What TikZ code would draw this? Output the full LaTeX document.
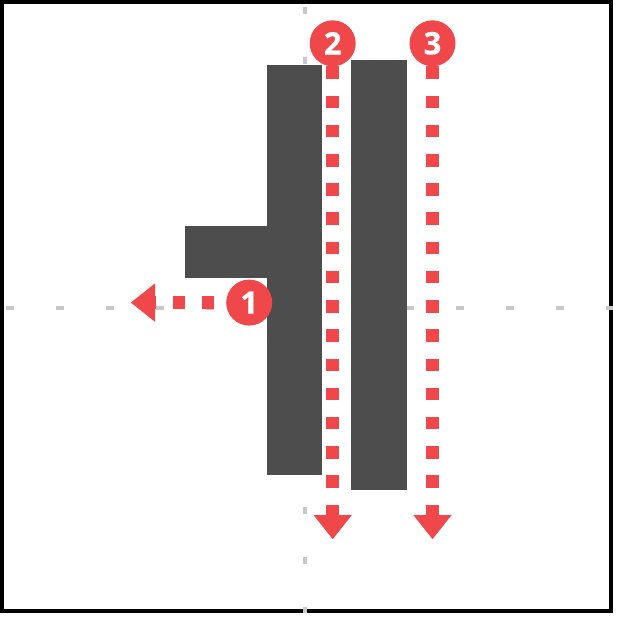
\documentclass[tikz,border=0pt]{standalone}
\usepackage{fontspec}
\setmainfont{Open Sans}
\newfontfamily\badgefont{Open Sans}[FakeBold=0.6]
\usetikzlibrary{arrows.meta}

\definecolor{flowred}{HTML}{EF474A}
\definecolor{walldark}{HTML}{4D4D4D}
\definecolor{guidegray}{HTML}{C8C8C8}

\begin{document}
\begin{tikzpicture}[
    x=1pt,
    y=-1pt,
    guide/.style={draw=guidegray, line width=4pt, dash pattern=on 7.7pt off 42.3pt},
    wall/.style={fill=walldark},
    flow/.style={draw=flowred, line width=12.5pt, dash pattern=on 12.5pt off 16.7pt,
        -{Triangle[width=36.7pt, length=24.3pt]}},
    badge/.style={circle, fill=flowred, text=white, minimum size=46pt, inner sep=0pt,
        font=\fontsize{31}{31}\badgefont\bfseries},
]

    \useasboundingbox (0,0) rectangle (617,617);
    \draw[line width=4pt] (2,2) rectangle (611,611);

    % centre lines
    \coordinate (hl) at (6,308.3);
    \coordinate (hr) at (613,308.3);
    \coordinate (vt) at (304.7,6.7);
    \coordinate (vb) at (304.7,613);
    \draw[guide] (hl) -- (hr);
    \draw[guide] (vt) -- (vb);

    % walls
    \fill[wall] (267,65) rectangle (321.7,475);
    \fill[wall] (185,226) rectangle (267,278.3);
    \fill[wall] (351,60) rectangle (407,490);

    \node[badge] (b1) at (249.2,302.6) {1};
    \node[badge] (b2) at (332.7,43.3)  {2};
    \node[badge] (b3) at (432.5,43.3)  {3};

    \coordinate (e1) at (130.7,302.6);
    \coordinate (e2) at (332.7,539.3);
    \coordinate (e3) at (432.5,539.3);

    \draw[flow, dash phase=17.5pt] (b1) -- (e1);
    \draw[flow] (b2) -- (e2);
    \draw[flow] (b3) -- (e3);
\end{tikzpicture}
\end{document}
